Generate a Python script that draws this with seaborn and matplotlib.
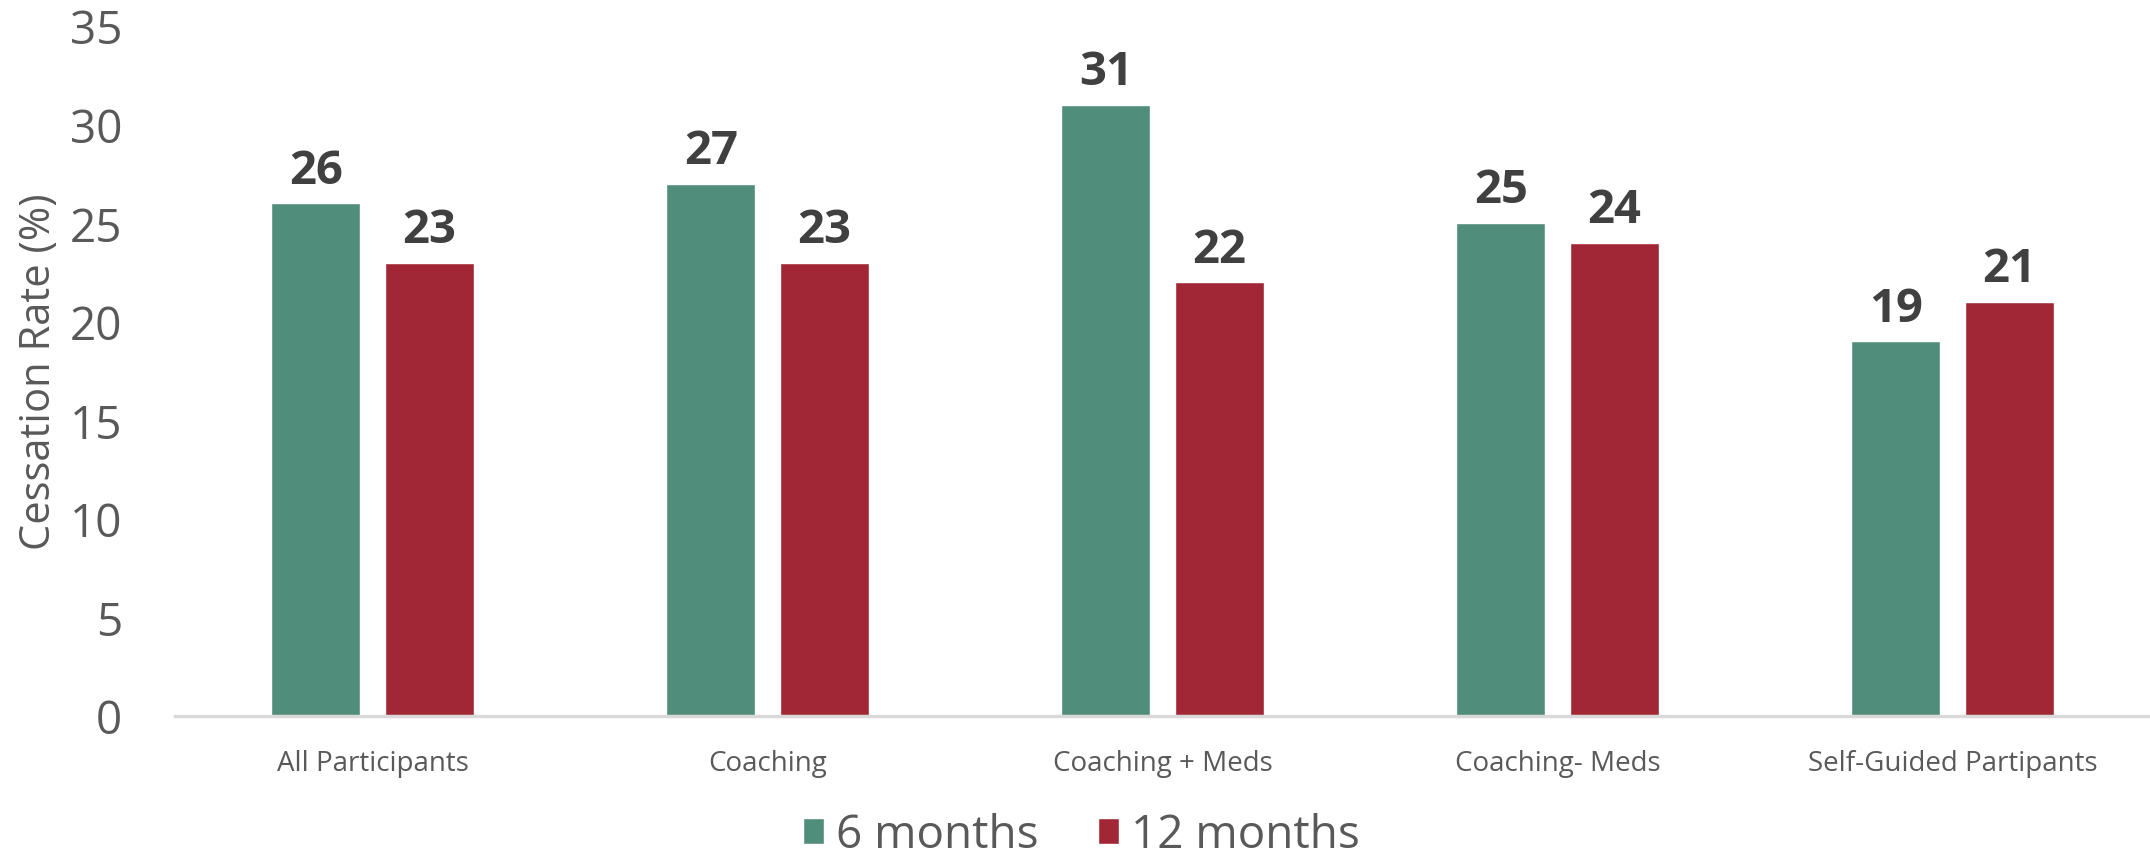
import numpy as np
import matplotlib
matplotlib.use("Agg")
import matplotlib.pyplot as plt
import seaborn as sns
import pandas as pd

# chart data
groups = ["All Participants", "Coaching", "Coaching + Meds", "Coaching- Meds", "Self-Guided Partipants"]
periods = ["6 months", "12 months"]
rate_6m = [26, 27, 31, 25, 19]
rate_12m = [23, 23, 22, 24, 21]

colors = ["#518D7B", "#A12736"]

df = pd.DataFrame({
    "group": groups * 2,
    "period": [periods[0]] * len(groups) + [periods[1]] * len(groups),
    "rate": rate_6m + rate_12m,
})

sns.set_theme(style="white")
plt.rcParams["font.family"] = ["Open Sans", "DejaVu Sans"]

fig = plt.figure(figsize=(21.5, 8.62), dpi=100)
ax = fig.add_axes([175 / 2150, 1 - 717 / 862, 1 - 175 / 2150, (717 - 27) / 862])

sns.barplot(data=df, x="group", y="rate", hue="period", palette=colors, saturation=1,
            width=0.573, gap=0.215, ax=ax, legend=True)

# value labels on the bars
for cont in ax.containers:
    ax.bar_label(cont, fmt="%d", padding=7, fontsize=34, fontweight="bold", color="#404040")

ax.set_ylim(0, 35)
ax.set_xlim(-0.5, 4.5)
ax.set_yticks(range(0, 36, 5))
ax.tick_params(axis="y", length=0, pad=38, labelsize=33, labelcolor="#595959")
ax.tick_params(axis="x", length=0, pad=24, labelsize=20, labelcolor="#595959")
ax.set_xlabel("")
ax.set_ylabel("Cessation Rate (%)", fontsize=30, color="#595959")
ax.yaxis.set_label_coords(-0.058, 0.5)

for side in ["top", "right", "left"]:
    ax.spines[side].set_visible(False)
ax.spines["bottom"].set_color("#D9D9D9")
ax.spines["bottom"].set_linewidth(2.5)

handles, labels = ax.get_legend_handles_labels()
ax.get_legend().remove()
fig.legend(handles, labels, loc="center", bbox_to_anchor=(0.503, 0.03), ncol=2, frameon=False,
           fontsize=33, labelcolor="#595959", handlelength=0.46, handleheight=0.5,
           handletextpad=0.25, columnspacing=1.3)

fig.savefig("out.png", dpi=100)
